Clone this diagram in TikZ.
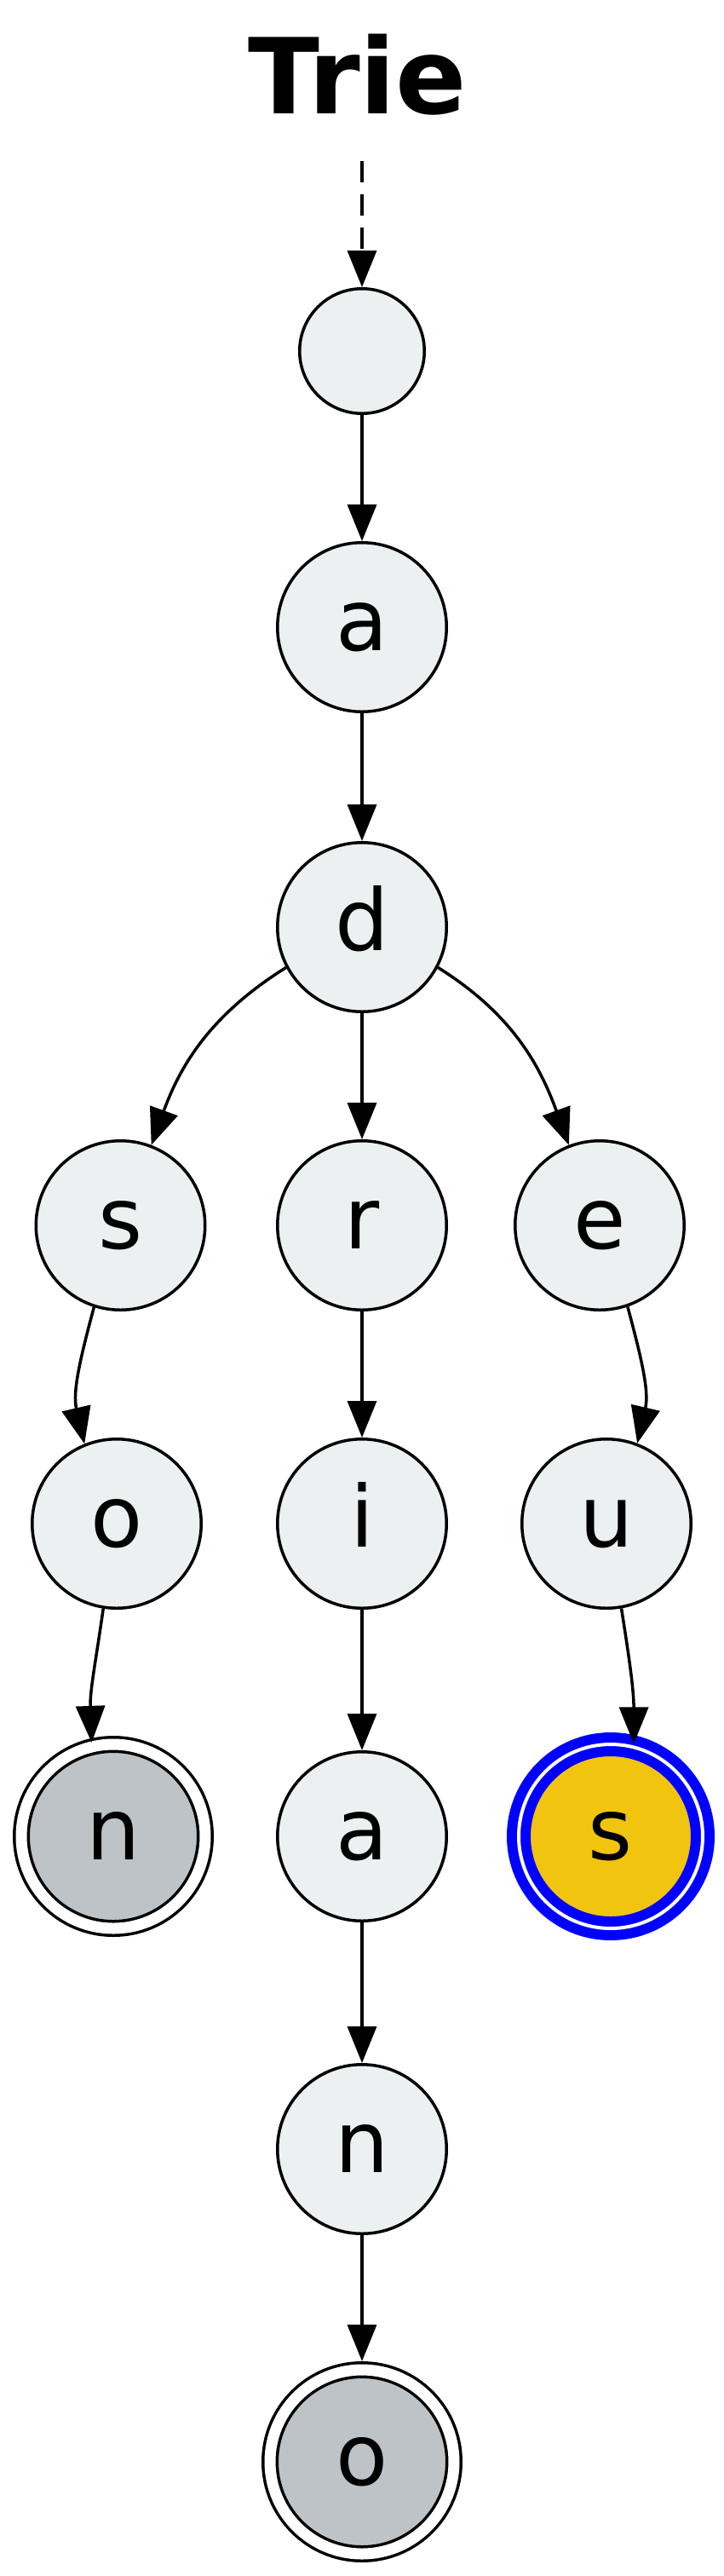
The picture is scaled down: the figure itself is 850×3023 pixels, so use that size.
\documentclass[tikz,border=0pt]{standalone}
\usepackage{fontspec}
\setmainfont{DejaVu Sans}
\usetikzlibrary{arrows.meta}
\definecolor{clouds}{HTML}{ECF0F1}
\definecolor{silver}{HTML}{BDC3C7}
\definecolor{sunflower}{HTML}{F1C40F}
\definecolor{pureblue}{HTML}{0000FF}
\begin{document}
\begin{tikzpicture}[x=1pt,y=1pt,
  trienode/.style={circle, draw=black, line width=3.5pt, fill=clouds, minimum size=198.5pt, inner sep=0pt, outer sep=1.75pt, text height=70pt, text depth=16pt, font=\fontsize{100}{100}\selectfont},
  rootnode/.style={trienode, minimum size=146.5pt},
  endnode/.style={trienode, fill=silver, double=white, double distance=13pt, minimum size=216pt, outer sep=10pt},
  hitnode/.style={trienode, draw=pureblue, fill=sunflower, line width=12pt, double=white, double distance=4pt, minimum size=216pt, outer sep=4pt},
  edge/.style={draw=black, line width=3.5pt, -{Triangle[length=43pt,width=34pt]}},
  titlestyle/.style={font=\fontsize{123}{123}\selectfont\bfseries, anchor=base, inner sep=0pt}
]
\fill[white] (0,0) rectangle (850,-3023);
\useasboundingbox (0,0) rectangle (850,-3023);
\node[titlestyle] (title) at (420,-133) {Trie};
\coordinate (start) at (425,-189);
\node[rootnode] (root) at (425,-412) {};
\node[trienode] (a1) at (425,-736) {a};
\node[trienode] (d) at (425,-1088) {d};
\node[trienode] (s1) at (141.5,-1438) {s};
\node[trienode] (r) at (425,-1438) {r};
\node[trienode] (e) at (704,-1438) {e};
\node[trienode] (o1) at (137,-1788) {o};
\node[trienode] (i) at (425,-1788) {i};
\node[trienode] (u) at (712,-1788) {u};
\node[endnode, outer sep=5pt] (n1) at (133,-2155) {n};
\node[trienode] (a2) at (425,-2155) {a};
\node[hitnode] (s2) at (717,-2155) {s};
\node[trienode] (n2) at (425,-2522) {n};
\node[endnode] (o2) at (425,-2889) {o};
\draw[edge, dash pattern=on 25pt off 14pt] (start) -- (root);
\draw[edge] (root) -- (a1);
\draw[edge] (a1) -- (d);
\draw[edge] (d) -- (r);
\draw[edge] (d.208) to[out=212, in=70] (s1.69);
\draw[edge] (d.332) to[out=328, in=110] (e.111);
\draw[edge] (s1.252) to[out=255, in=103] (o1.112);
\draw[edge] (e.289) to[out=285, in=77] (u.69);
\draw[edge] (r) -- (i);
\draw[edge] (i) -- (a2);
\draw[edge] (a2) -- (n2);
\draw[edge] (n2) -- (o2);
\draw[edge] (o1.261) to[out=262, in=92] (n1.103);
\draw[edge] (u.280) to[out=279, in=90] (s2.76);
\end{tikzpicture}
\end{document}
